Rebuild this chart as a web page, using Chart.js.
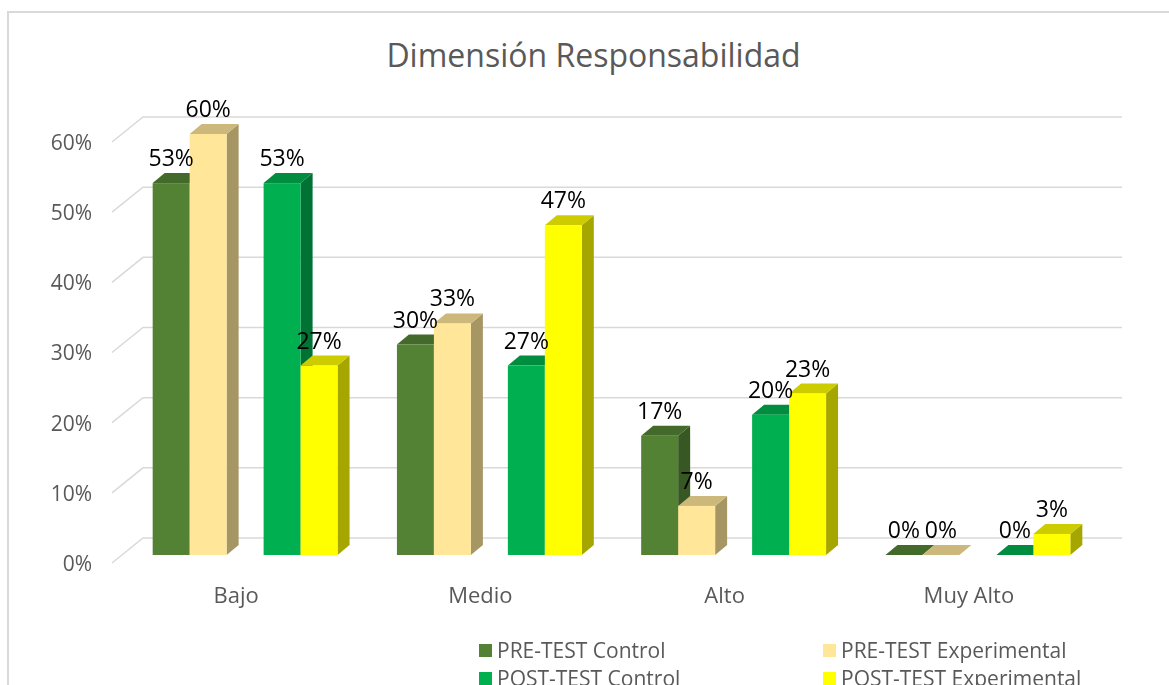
<!DOCTYPE html>
<html>
<head>
<meta charset="utf-8">
<script src="https://cdn.jsdelivr.net/npm/chart.js@4/dist/chart.umd.min.js"></script>
<style>
  html, body { margin: 0; padding: 0; background: #fff; overflow: hidden; }
  #wrap { position: relative; width: 1169px; height: 685px; font-family: "Open Sans", sans-serif; color: #595959; }
  #marco { position: absolute; left: 7px; top: 11px; width: 1200px; height: 700px; border-left: 2px solid #d9d9d9; border-top: 2px solid #d9d9d9; }
  #titulo { position: absolute; left: 18px; width: 1151px; top: 35px; text-align: center; font-size: 32px; line-height: 40px; }
  #grafico { position: absolute; left: 0; top: 0; }
  #leyenda { position: absolute; left: 0; top: 0; width: 1169px; height: 685px; pointer-events: none; }
  .ley-item { position: absolute; display: flex; align-items: center; font-size: 21px; line-height: 24px; white-space: nowrap; }
  .ley-cuadro { width: 13px; height: 13px; margin-right: 5px; }
</style>
</head>
<body>
<div id="wrap">
  <div id="marco"></div>
  <div id="titulo">Dimensión Responsabilidad</div>
  <canvas id="grafico" width="1169" height="685"></canvas>
  <div id="leyenda"></div>
</div>
<script>
// ===== DATOS =====
const categorias   = ['Bajo', 'Medio', 'Alto', 'Muy Alto'];
const preControl   = [53, 30, 17, 0];
const preExp       = [60, 33, 7, 0];
const postControl  = [53, 27, 20, 0];
const postExp      = [27, 47, 23, 3];
const ticksY       = [0, 10, 20, 30, 40, 50, 60];

const nombres = ['PRE-TEST Control', 'PRE-TEST Experimental', 'POST-TEST Control', 'POST-TEST Experimental'];

// colores: frente / tapa / lado
const colFrente = ['#548235', '#FFE699', '#00B050', '#FFFF00'];
const colTapa   = ['#436a2a', '#ccb87a', '#008d40', '#cccc00'];
const colLado   = ['#375723', '#a69664', '#007234', '#a6a600'];

const DX = 12, DY = -10;   // profundidad de las barras

// ===== PLUGIN 3D =====
const barras3d = {
  id: 'barras3d',

  beforeDatasetsDraw(chart) {
    const ctx = chart.ctx;
    const ca  = chart.chartArea;
    const y   = chart.scales.y;

    ctx.save();

    // pared del fondo
    ctx.strokeStyle = '#d9d9d9';
    ctx.lineWidth = 1.5;
    ticksY.forEach(v => {
      const py = y.getPixelForValue(v);
      ctx.beginPath();
      ctx.moveTo(ca.left - 11, py + 8);
      ctx.lineTo(ca.left + 20, py - 17);
      ctx.lineTo(ca.right + 22, py - 17);
      ctx.stroke();
    });

    // barras, de izquierda a derecha
    categorias.forEach((_, i) => {
      chart.data.datasets.forEach((ds, d) => {
        if (ds.serie == null) return;
        const el = chart.getDatasetMeta(d).data[i];
        if (!el || ds.data[i] == null) return;

        const s  = ds.serie;
        const x0 = el.x - el.width / 2;
        const x1 = el.x + el.width / 2;
        const top = el.y, base = el.base;

        // lado
        ctx.fillStyle = colLado[s];
        ctx.beginPath();
        ctx.moveTo(x1, base);
        ctx.lineTo(x1 + DX, base + DY);
        ctx.lineTo(x1 + DX, top + DY);
        ctx.lineTo(x1, top);
        ctx.closePath();
        ctx.fill();

        // tapa
        ctx.fillStyle = colTapa[s];
        ctx.beginPath();
        ctx.moveTo(x0, top);
        ctx.lineTo(x0 + DX, top + DY);
        ctx.lineTo(x1 + DX, top + DY);
        ctx.lineTo(x1, top);
        ctx.closePath();
        ctx.fill();

        // frente
        ctx.fillStyle = colFrente[s];
        ctx.fillRect(x0, top, x1 - x0, base - top);
      });
    });

    ctx.restore();
    return false;
  },

  afterDraw(chart) {
    const ctx = chart.ctx;
    ctx.save();
    ctx.font = '23px "Open Sans"';
    ctx.fillStyle = '#000';
    ctx.textAlign = 'center';
    ctx.textBaseline = 'alphabetic';

    chart.data.datasets.forEach((ds, d) => {
      if (ds.serie == null) return;
      chart.getDatasetMeta(d).data.forEach((el, i) => {
        if (ds.data[i] == null) return;
        ctx.fillText(ds.data[i] + '%', el.x, el.y - 17);
      });
    });
    ctx.restore();
  }
};

// ===== GRÁFICO =====
const series = [preControl, preExp, null, postControl, postExp];
let idx = 0;
const datasets = series.map(arr => {
  if (!arr) return { label: '', data: categorias.map(() => null), serie: null };
  const s = idx++;
  return { label: nombres[s], data: arr, serie: s, backgroundColor: colFrente[s] };
});

new Chart(document.getElementById('grafico'), {
  type: 'bar',
  data: { labels: categorias, datasets },
  plugins: [barras3d],
  options: {
    responsive: false,
    animation: false,
    devicePixelRatio: 1,
    layout: { padding: { left: 0, right: 69, top: 134, bottom: 70 } },
    datasets: { bar: { categoryPercentage: 0.757, barPercentage: 1.0 } },
    plugins: {
      legend: { display: false },
      tooltip: { enabled: false }
    },
    scales: {
      x: {
        grid: { display: false, drawTicks: false },
        border: { display: false },
        ticks: { color: '#595959', font: { family: 'Open Sans', size: 22 }, padding: 29, labelOffset: -9 },
        afterFit: s => { s.height = 60; }
      },
      y: {
        min: 0,
        max: 60,
        grid: { display: false, drawTicks: false },
        border: { display: false },
        ticks: {
          stepSize: 10,
          color: '#595959',
          font: { family: 'Open Sans', size: 21 },
          padding: 31,
          labelOffset: 10,
          callback: v => v + '%'
        },
        afterFit: s => { s.width = 123; }
      }
    }
  }
});

// ===== LEYENDA =====
const posLeyenda = [[479, 643], [823, 643], [479, 671], [823, 671]];
const leyenda = document.getElementById('leyenda');
nombres.forEach((n, s) => {
  const item = document.createElement('div');
  item.className = 'ley-item';
  item.style.left = posLeyenda[s][0] + 'px';
  item.style.top  = (posLeyenda[s][1] - 5) + 'px';
  item.innerHTML = `<span class="ley-cuadro" style="background:${colFrente[s]}"></span><span>${n}</span>`;
  leyenda.appendChild(item);
});
</script>
</body>
</html>
